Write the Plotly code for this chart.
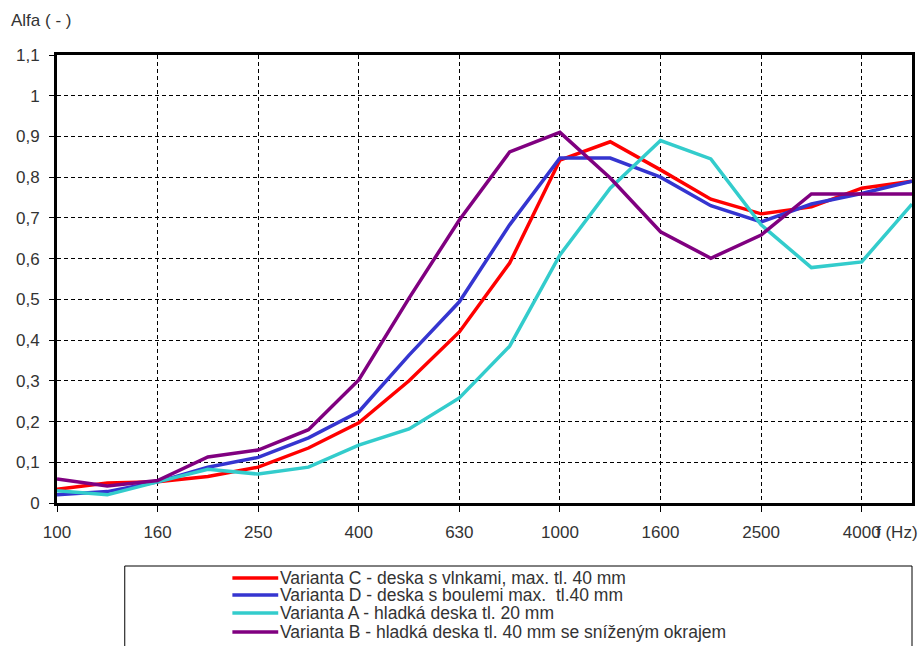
import plotly.graph_objects as go

freqs = ["100", "125", "160", "200", "250", "315", "400", "500", "630", "800",
         "1000", "1250", "1600", "2000", "2500", "3150", "4000", "5000"]
tick_labels = ["100", "160", "250", "400", "630", "1000", "1600", "2500", "4000"]

var_c = [0.034, 0.049, 0.052, 0.065, 0.088, 0.135, 0.197, 0.30, 0.42, 0.589,
         0.842, 0.887, 0.818, 0.746, 0.71, 0.727, 0.773, 0.79]
var_d = [0.02, 0.028, 0.052, 0.088, 0.112, 0.16, 0.224, 0.363, 0.494, 0.683,
         0.847, 0.847, 0.80, 0.73, 0.69, 0.734, 0.76, 0.79]
var_a = [0.03, 0.02, 0.052, 0.083, 0.071, 0.088, 0.142, 0.182, 0.258, 0.385,
         0.609, 0.773, 0.89, 0.845, 0.683, 0.578, 0.592, 0.734]
var_b = [0.059, 0.042, 0.055, 0.113, 0.13, 0.18, 0.302, 0.503, 0.695, 0.862,
         0.91, 0.798, 0.666, 0.601, 0.658, 0.759, 0.759, 0.759]

series = [
    ("Varianta C - deska s vlnkami, max. tl. 40 mm", var_c, "#ff0000"),
    ("Varianta D - deska s boulemi max.  tl.40 mm", var_d, "#3535d0"),
    ("Varianta A - hladká deska tl. 20 mm", var_a, "#33cccc"),
    ("Varianta B - hladká deska tl. 40 mm se sníženým okrajem", var_b, "#800080"),
]

W, H = 924, 646
L, R, T, B = 57, 9, 55, 143
PW, PH = W - L - R, H - T - B


def px(x):
    return (x - L) / PW


def py(y):
    return (H - B - y) / PH


xidx = list(range(len(freqs)))
fig = go.Figure()
for name, vals, col in series:
    fig.add_trace(go.Scatter(x=xidx, y=vals, mode="lines", name=name,
                             line=dict(color=col, width=3.5), showlegend=False))

tickvals = [freqs.index(t) for t in tick_labels]

shapes = [dict(type="rect", xref="paper", yref="paper",
               x0=px(125), x1=px(915), y0=py(660), y1=py(566),
               line=dict(color="black", width=1), fillcolor="rgba(0,0,0,0)")]
annotations = [
    dict(text="Alfa ( - )", xref="paper", yref="paper", x=px(9), y=py(20),
         xanchor="left", yanchor="middle", showarrow=False,
         font=dict(size=17, color="#333")),
    dict(text="f (Hz)", xref="paper", yref="paper", x=px(923), y=py(532),
         xanchor="right", yanchor="middle", showarrow=False,
         font=dict(size=17, color="#333")),
]
legend_y = [578, 595, 613, 632]
for (name, vals, col), ly in zip(series, legend_y):
    shapes.append(dict(type="line", xref="paper", yref="paper",
                       x0=px(233), x1=px(279), y0=py(ly), y1=py(ly),
                       line=dict(color=col, width=3.5)))
    annotations.append(dict(text=name, xref="paper", yref="paper",
                            x=px(279), y=py(ly), xanchor="left", yanchor="middle",
                            showarrow=False, font=dict(size=17.5, color="#333")))

fig.update_layout(
    width=W, height=H,
    margin=dict(l=L, r=R, t=T, b=B),
    paper_bgcolor="white", plot_bgcolor="white",
    separators=", ",
    font=dict(family="Liberation Sans, Arial, sans-serif", size=17, color="#333"),
    showlegend=False,
    xaxis=dict(range=[0, 17], tickvals=tickvals, ticktext=tick_labels,
               showgrid=True, gridcolor="black", gridwidth=1, griddash="4px,3px",
               showline=True, linecolor="black", linewidth=3, mirror=True,
               ticks="outside", ticklen=6, tickcolor="black", zeroline=False,
               ticklabelstandoff=6, tickfont=dict(size=17, color="#333")),
    yaxis=dict(range=[0, 1.1], dtick=0.1, tick0=0,
               showgrid=True, gridcolor="black", gridwidth=1, griddash="4px,3px",
               showline=True, linecolor="black", linewidth=3, mirror=True,
               ticks="outside", ticklen=5, tickcolor="black", zeroline=False,
               ticklabelstandoff=6, tickfont=dict(size=17, color="#333")),
    shapes=shapes,
    annotations=annotations,
)

fig.write_html("out.html", config={"displayModeBar": False},
               post_script="document.body.style.margin='0';")
